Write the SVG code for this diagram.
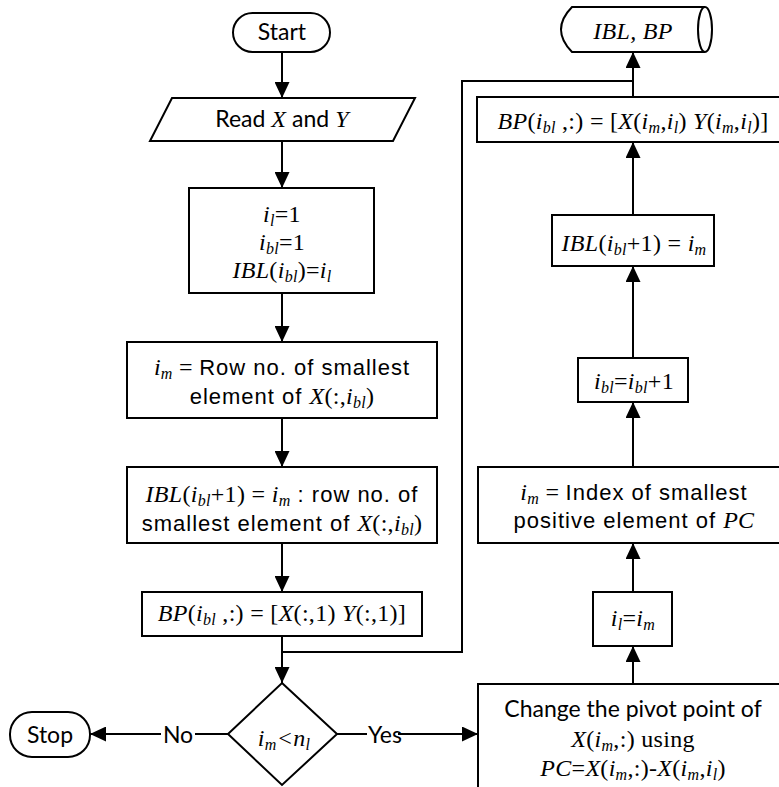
<svg xmlns="http://www.w3.org/2000/svg" width="779" height="787" viewBox="0 0 779 787">
<style>
.sh{fill:#fff;stroke:#000;stroke-width:2}
.ln{fill:none;stroke:#000;stroke-width:2}
.cal{font-family:Lato,"Open Sans",sans-serif;font-size:23px}
.ar{font-family:"Liberation Sans",Arial,sans-serif;font-size:22px;letter-spacing:1px}
.tm{font-family:"Liberation Serif","Times New Roman",serif;font-size:24px;letter-spacing:0.3px}
.it{font-style:italic}
.sb{font-size:16px}
text{text-anchor:middle;fill:#000}
</style>
<defs>
<marker id="ah" markerUnits="userSpaceOnUse" markerWidth="16" markerHeight="15" refX="16" refY="7.5" orient="auto">
<path d="M0,0 L16,7.5 L0,15 Z" fill="#000"/>
</marker>
</defs>
<rect width="779" height="787" fill="#fff"/>
<g id="connectors">
<line class="ln" x1="282" y1="52" x2="282" y2="98" marker-end="url(#ah)"/>
<line class="ln" x1="282" y1="141" x2="282" y2="188" marker-end="url(#ah)"/>
<line class="ln" x1="282" y1="293" x2="282" y2="342" marker-end="url(#ah)"/>
<line class="ln" x1="282" y1="418" x2="282" y2="467" marker-end="url(#ah)"/>
<line class="ln" x1="282" y1="543" x2="282" y2="592" marker-end="url(#ah)"/>
<line class="ln" x1="282" y1="636" x2="282" y2="683" marker-end="url(#ah)"/>
<path class="ln" d="M633,81 H462 V652 H282"/>
<line class="ln" x1="228" y1="734" x2="90" y2="734" marker-end="url(#ah)"/>
<line class="ln" x1="337" y1="734" x2="478" y2="734" marker-end="url(#ah)"/>
<line class="ln" x1="633" y1="684" x2="633" y2="646" marker-end="url(#ah)"/>
<line class="ln" x1="633" y1="592" x2="633" y2="543" marker-end="url(#ah)"/>
<line class="ln" x1="633" y1="467" x2="633" y2="402" marker-end="url(#ah)"/>
<line class="ln" x1="633" y1="358" x2="633" y2="266" marker-end="url(#ah)"/>
<line class="ln" x1="633" y1="215" x2="633" y2="142" marker-end="url(#ah)"/>
<line class="ln" x1="633" y1="97" x2="633" y2="52" marker-end="url(#ah)"/>
<rect x="161" y="722" width="34" height="24" fill="#fff"/>
<text class="cal" x="178" y="743">No</text>
<rect x="367" y="722" width="31" height="24" fill="#fff"/>
<text class="cal" x="385" y="743">Yes</text>
</g>
<g id="start">
<rect class="sh" x="233" y="13" width="97" height="39" rx="19.5"/>
<text class="cal" x="282" y="40">Start</text>
</g>
<g id="read">
<polygon class="sh" points="172,98 415,98 393,141 150,141"/>
<text x="282" y="127"><tspan class="cal">Read </tspan><tspan class="tm it">X</tspan><tspan class="cal"> and </tspan><tspan class="tm it">Y</tspan></text>
</g>
<g id="init">
<rect class="sh" x="189" y="188" width="185" height="105"/>
<text class="tm" x="282" y="222"><tspan class="it">i</tspan><tspan class="it sb" dy="4">l</tspan><tspan dy="-4">=1</tspan></text>
<text class="tm" x="282" y="250"><tspan class="it">i</tspan><tspan class="it sb" dy="4">bl</tspan><tspan dy="-4">=1</tspan></text>
<text class="tm" x="282" y="278"><tspan class="it">IBL</tspan>(<tspan class="it">i</tspan><tspan class="it sb" dy="4">bl</tspan><tspan dy="-4">)=</tspan><tspan class="it">i</tspan><tspan class="it sb" dy="4">l</tspan></text>
</g>
<g id="rowno">
<rect class="sh" x="127" y="342" width="310" height="76"/>
<text x="282" y="375"><tspan class="tm it">i</tspan><tspan class="tm it sb" dy="4">m</tspan><tspan class="tm" dy="-4"> = </tspan><tspan class="ar">Row no. of smallest</tspan></text>
<text x="282" y="404"><tspan class="ar">element of </tspan><tspan class="tm it">X</tspan><tspan class="tm">(:,</tspan><tspan class="tm it">i</tspan><tspan class="tm it sb" dy="4">bl</tspan><tspan class="tm" dy="-4">)</tspan></text>
</g>
<g id="iblrow">
<rect class="sh" x="127" y="467" width="310" height="76"/>
<text x="282" y="502"><tspan class="tm it">IBL</tspan><tspan class="tm">(</tspan><tspan class="tm it">i</tspan><tspan class="tm it sb" dy="4">bl</tspan><tspan class="tm" dy="-4">+1) = </tspan><tspan class="tm it">i</tspan><tspan class="tm it sb" dy="4">m</tspan><tspan class="ar" dy="-4"> : row no. of</tspan></text>
<text x="282" y="531"><tspan class="ar">smallest element of </tspan><tspan class="tm it">X</tspan><tspan class="tm">(:,</tspan><tspan class="tm it">i</tspan><tspan class="tm it sb" dy="4">bl</tspan><tspan class="tm" dy="-4">)</tspan></text>
</g>
<g id="bp1">
<rect class="sh" x="142" y="592" width="280" height="44"/>
<text class="tm" x="282" y="621"><tspan class="it">BP</tspan>(<tspan class="it">i</tspan><tspan class="it sb" dy="4">bl</tspan><tspan dy="-4"> ,:) = [</tspan><tspan class="it">X</tspan>(:,1) <tspan class="it">Y</tspan>(:,1)]</text>
</g>
<g id="decision">
<polygon class="sh" points="282,683 337,734 282,785 228,734"/>
<text class="tm it" x="284" y="746">i<tspan class="sb" dy="4">m</tspan><tspan dy="-4">&lt;n</tspan><tspan class="sb" dy="4">l</tspan></text>
</g>
<g id="stop">
<rect class="sh" x="10" y="712" width="80" height="45" rx="22"/>
<text class="cal" x="50" y="743">Stop</text>
</g>
<g id="output">
<path class="sh" d="M572,7 L705,7 A7,22.5 0 0 1 705,52 L572,52 Q550,29.5 572,7 Z"/>
<path class="ln" d="M705,7 A7,22.5 0 0 0 705,52"/>
<text class="tm it" x="633" y="39">IBL, BP</text>
</g>
<g id="bp2">
<rect class="sh" x="477" y="97" width="314" height="45"/>
<text class="tm" x="633" y="129"><tspan class="it">BP</tspan>(<tspan class="it">i</tspan><tspan class="it sb" dy="4">bl</tspan><tspan dy="-4"> ,:) = [</tspan><tspan class="it">X</tspan>(<tspan class="it">i</tspan><tspan class="it sb" dy="4">m</tspan><tspan dy="-4">,</tspan><tspan class="it">i</tspan><tspan class="it sb" dy="4">l</tspan><tspan dy="-4">) </tspan><tspan class="it">Y</tspan>(<tspan class="it">i</tspan><tspan class="it sb" dy="4">m</tspan><tspan dy="-4">,</tspan><tspan class="it">i</tspan><tspan class="it sb" dy="4">l</tspan><tspan dy="-4">)]</tspan></text>
</g>
<g id="iblnext">
<rect class="sh" x="552" y="215" width="162" height="51"/>
<text class="tm" x="634" y="251"><tspan class="it">IBL</tspan>(<tspan class="it">i</tspan><tspan class="it sb" dy="4">bl</tspan><tspan dy="-4">+1) = </tspan><tspan class="it">i</tspan><tspan class="it sb" dy="4">m</tspan></text>
</g>
<g id="inc">
<rect class="sh" x="578" y="358" width="110" height="44"/>
<text class="tm" x="634" y="389"><tspan class="it">i</tspan><tspan class="it sb" dy="4">bl</tspan><tspan dy="-4">=</tspan><tspan class="it">i</tspan><tspan class="it sb" dy="4">bl</tspan><tspan dy="-4">+1</tspan></text>
</g>
<g id="index">
<rect class="sh" x="478" y="467" width="312" height="76"/>
<text x="634" y="500"><tspan class="tm it">i</tspan><tspan class="tm it sb" dy="4">m</tspan><tspan class="tm" dy="-4"> = </tspan><tspan class="ar">Index of smallest</tspan></text>
<text x="634" y="528"><tspan class="ar">positive element of </tspan><tspan class="tm it">PC</tspan></text>
</g>
<g id="ilim">
<rect class="sh" x="593" y="592" width="79" height="54"/>
<text class="tm" x="633" y="626"><tspan class="it">i</tspan><tspan class="it sb" dy="4">l</tspan><tspan dy="-4">=</tspan><tspan class="it">i</tspan><tspan class="it sb" dy="4">m</tspan></text>
</g>
<g id="pivot">
<rect class="sh" x="478" y="684" width="312" height="120"/>
<text class="cal" x="633" y="717">Change the pivot point of</text>
<text class="tm" x="633" y="747"><tspan class="it">X</tspan>(<tspan class="it">i</tspan><tspan class="it sb" dy="4">m</tspan><tspan dy="-4">,:) using</tspan></text>
<text class="tm" x="633" y="776"><tspan class="it">PC</tspan>=<tspan class="it">X</tspan>(<tspan class="it">i</tspan><tspan class="it sb" dy="4">m</tspan><tspan dy="-4">,:)-</tspan><tspan class="it">X</tspan>(<tspan class="it">i</tspan><tspan class="it sb" dy="4">m</tspan><tspan dy="-4">,</tspan><tspan class="it">i</tspan><tspan class="it sb" dy="4">l</tspan><tspan dy="-4">)</tspan></text>
</g>
</svg>
